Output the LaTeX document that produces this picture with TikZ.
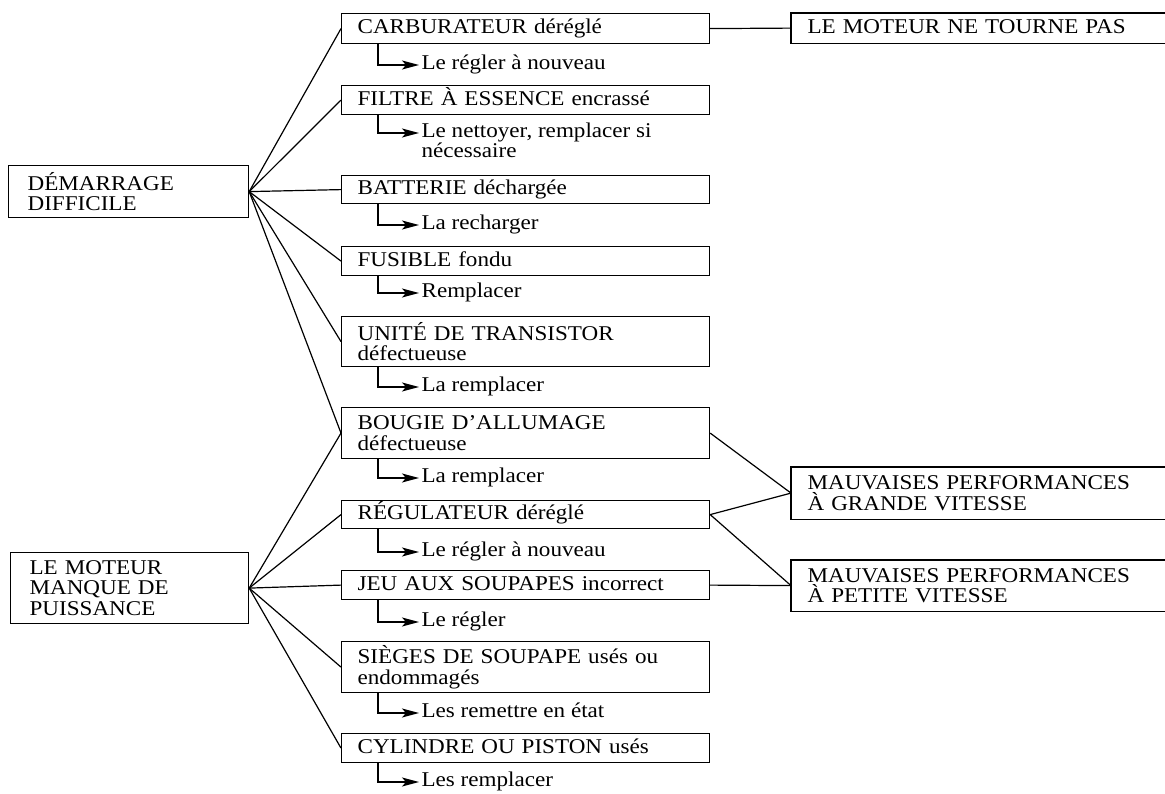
\documentclass[tikz,border=0pt]{standalone}
\usepackage{fontspec}
\setmainfont{Liberation Serif}[FakeStretch=1.1]
\usetikzlibrary{arrows.meta}

\begin{document}
\begin{tikzpicture}[x=1pt,y=-1pt,
  font=\fontsize{21}{20.5}\selectfont,
  line width=1.2pt,
  symptom/.style={draw, anchor=north west, minimum width=240pt, text width=202pt,
    inner xsep=19pt, inner ysep=0pt, align=left},
  cause/.style={draw, anchor=north west, minimum width=368pt, text width=336pt,
    inner xsep=16pt, inner ysep=0pt, align=left},
  effect/.style={anchor=north west, minimum width=374pt, text width=342pt,
    inner xsep=16pt, inner ysep=0pt, align=left},
  single/.style={text height=14.5pt, text depth=4.5pt},
  remedy/.style={anchor=west, inner xsep=2pt, inner ysep=0pt,
    text height=13.5pt, text depth=4.5pt},
  fix/.style={-{Stealth[length=17pt,width=9pt,inset=4pt]}}
]
\useasboundingbox (0,0) rectangle (1165,794);

% symptoms on the left
\node[symptom, minimum height=52pt] (dem) at (8,165) {DÉMARRAGE\\DIFFICILE};
\node[symptom, minimum width=238pt, text width=200pt, inner xsep=17pt, minimum height=71pt] (moteur) at (10,552)
  {LE MOTEUR\\MANQUE DE\\PUISSANCE};

% causes in the middle column
\node[cause, single, minimum height=30pt] (carb)   at (341,13)  {CARBURATEUR déréglé};
\node[cause, single, minimum height=29pt] (filtre) at (341,85)  {FILTRE À ESSENCE encrassé};
\node[cause, single, minimum height=28pt] (batt)   at (341,175) {BATTERIE déchargée};
\node[cause, single, minimum height=29pt] (fus)    at (341,246) {FUSIBLE fondu};
\node[cause, minimum height=50pt]         (unite)  at (341,316) {UNITÉ DE TRANSISTOR\\défectueuse};
\node[cause, minimum height=51pt]         (bougie) at (341,407) {BOUGIE D’ALLUMAGE\\défectueuse};
\node[cause, single, minimum height=28pt] (regul)  at (341,500) {RÉGULATEUR déréglé};
\node[cause, single, minimum height=29pt] (jeu)    at (341,570) {JEU AUX SOUPAPES incorrect};
\node[cause, minimum height=51pt]         (sieges) at (341,641) {SIÈGES DE SOUPAPE usés ou\\endommagés};
\node[cause, single, minimum height=29pt] (cyl)    at (341,733) {CYLINDRE OU PISTON usés};

% remedies under each cause
\node[remedy] (r1)  at (419,65)  {Le régler à nouveau};
\node[remedy] (r2)  at (419,133) {\vtop{\baselineskip=19pt\hbox{Le nettoyer, remplacer si}\hbox{nécessaire}}};
\node[remedy] (r3)  at (419,225) {La recharger};
\node[remedy] (r4)  at (419,293) {Remplacer};
\node[remedy] (r5)  at (419,387) {La remplacer};
\node[remedy] (r6)  at (419,478) {La remplacer};
\node[remedy] (r7)  at (419,552) {Le régler à nouveau};
\node[remedy] (r8)  at (419,622) {Le régler};
\node[remedy] (r9)  at (419,713) {Les remettre en état};
\node[remedy] (r10) at (419,782) {Les remplacer};

\foreach \c/\r in {carb/r1,filtre/r2,batt/r3,fus/r4,unite/r5,bougie/r6,regul/r7,jeu/r8,sieges/r9,cyl/r10}
  \draw[fix] ([xshift=37pt]\c.south west) |- (\r.west);

% effects on the right, boxes open towards the edge
\node[effect, single, minimum height=29pt] (nepas)  at (791,13)  {LE MOTEUR NE TOURNE PAS};
\node[effect, minimum height=51pt]         (grande) at (791,467) {MAUVAISES PERFORMANCES\\À GRANDE VITESSE};
\node[effect, minimum height=50pt]         (petite) at (791,560) {MAUVAISES PERFORMANCES\\À PETITE VITESSE};
\foreach \e in {nepas,grande,petite}
  \draw (\e.north east) -- (\e.north west) -- (\e.south west) -- (\e.south east);

% links from the symptoms to their causes
\foreach \c in {carb,filtre,batt,fus,unite,bougie}
  \draw (dem.east) -- (\c.west);
\foreach \c in {bougie,regul,jeu,sieges,cyl}
  \draw (moteur.east) -- (\c.west);

% links from causes to the effects
\draw (carb.east) -- (nepas.west);
\draw (bougie.east) -- (grande.west);
\draw (regul.east) -- (grande.west);
\draw (regul.east) -- (petite.west);
\draw (jeu.east) -- (petite.west);
\end{tikzpicture}
\end{document}
